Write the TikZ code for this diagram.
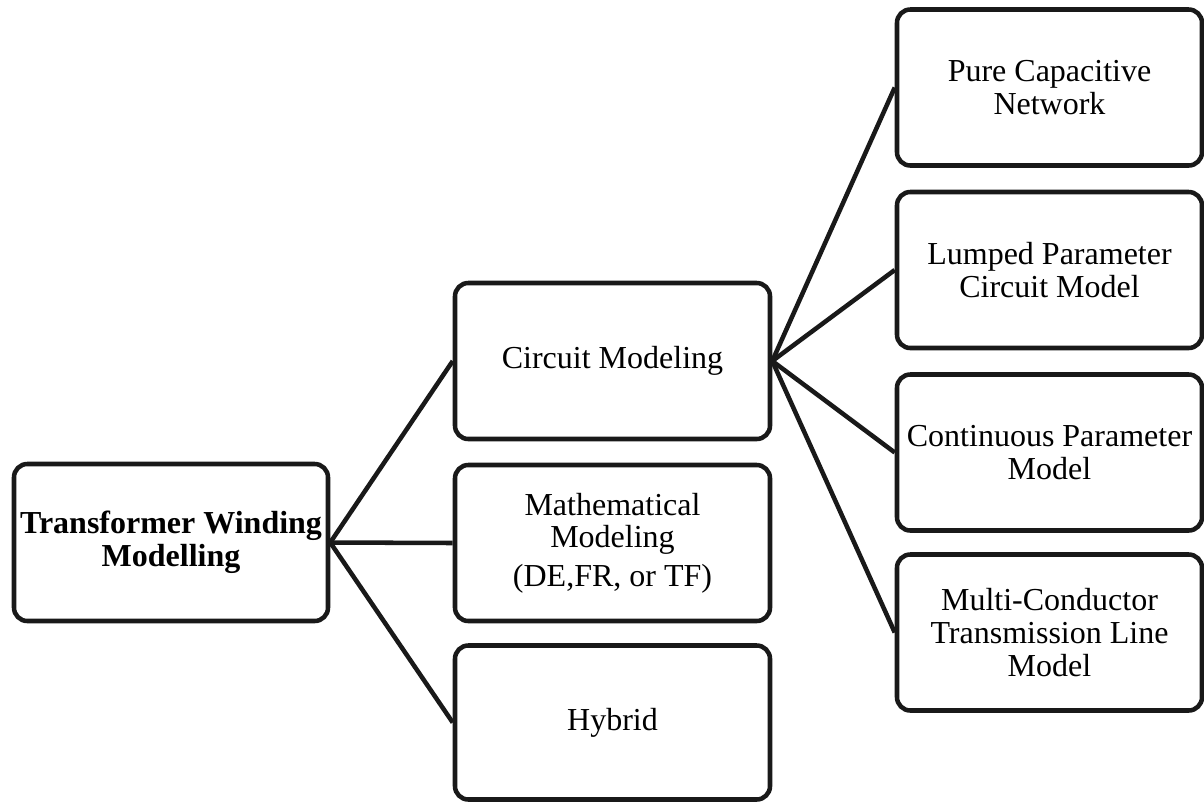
\documentclass[tikz,border=0pt]{standalone}
\usepackage{fontspec}
\setmainfont{Liberation Serif}
\begin{document}
\begin{tikzpicture}[x=0.75pt,y=-0.75pt,
  box/.style={draw=black!90, line width=3.4pt, rounded corners=10pt, align=center,
    font=\fontsize{24}{24.5}\selectfont, inner sep=0pt},
  midbox/.style={box, minimum width=315*0.75pt, minimum height=156*0.75pt},
  sidebox/.style={box, minimum width=305*0.75pt, minimum height=156*0.75pt},
  link/.style={draw=black!90, line width=3.4pt}]
\useasboundingbox (0,0) rectangle (1204,801);

% root of the tree
\node[box, minimum width=314*0.75pt, minimum height=157*0.75pt, font=\fontsize{24}{24.5}\selectfont\bfseries]
  (root) at (171,542.5) {Transformer Winding\\Modelling};

% second level
\node[midbox] (circ) at (612.5,361) {\raisebox{-3pt}{Circuit Modeling}};
\node[midbox] (math) at (612.5,543) {Mathematical\\Modeling\\[4.5pt](DE,FR, or TF)};
\node[midbox, minimum height=154*0.75pt] (hyb) at (612.5,722.5) {\raisebox{-2pt}{Hybrid}};

% circuit model types
\node[sidebox] (pure) at (1049.5,87.5) {Pure Capacitive\\Network};
\node[sidebox] (lump) at (1049.5,270) {Lumped Parameter\\Circuit Model};
\node[sidebox] (cont) at (1049.5,452.5) {Continuous Parameter\\Model};
\node[sidebox] (mtl) at (1049.5,632.5) {Multi-Conductor\\Transmission Line\\Model};

% connectors
\foreach \t in {circ,math,hyb} \path[link] (root.east) -- (\t.west);
\foreach \t in {pure,lump,cont,mtl} \path[link] (circ.east) -- (\t.west);
\end{tikzpicture}
\end{document}
